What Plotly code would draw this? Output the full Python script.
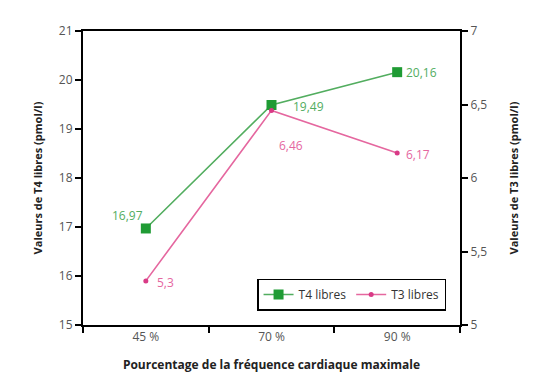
import plotly.graph_objects as go

categories = ["45 %", "70 %", "90 %"]
t4_values = [16.97, 19.49, 20.16]
t3_values = [5.3, 6.46, 6.17]
left_ticks = [15, 16, 17, 18, 19, 20, 21]
right_ticks = [5, 5.5, 6, 6.5, 7]

def fmt(v):
    return str(v).replace(".", ",")

FONT = "Open Sans, sans-serif"
GREEN_M = "#1f9b34"
GREEN_L = "#52ad5f"
PINK_M = "#d93a86"
PINK_L = "#e5679f"

fig = go.Figure()
fig.add_trace(go.Scatter(
    x=categories, y=t4_values, name="T4 libres", mode="lines+markers",
    line=dict(color=GREEN_L, width=1.6),
    marker=dict(symbol="square", size=10, color=GREEN_M),
    yaxis="y",
))
fig.add_trace(go.Scatter(
    x=categories, y=t3_values, name="T3 libres", mode="lines+markers",
    line=dict(color=PINK_L, width=1.6),
    marker=dict(symbol="circle", size=5, color=PINK_M),
    yaxis="y2",
))

# value labels (offsets in pixels from the points)
t4_offsets = [(-18, 13), (37, -2), (24, 0)]
t3_offsets = [(20, -2), (19, -35), (21, -1)]
annotations = []
for cat, v, (dx, dy) in zip(categories, t4_values, t4_offsets):
    annotations.append(dict(x=cat, y=v, xref="x", yref="y", text=fmt(v),
                            showarrow=False, xshift=dx, yshift=dy,
                            font=dict(color=GREEN_L, size=12, family=FONT)))
for cat, v, (dx, dy) in zip(categories, t3_values, t3_offsets):
    annotations.append(dict(x=cat, y=v, xref="x", yref="y2", text=fmt(v),
                            showarrow=False, xshift=dx, yshift=dy,
                            font=dict(color=PINK_L, size=12, family=FONT)))

fig.update_layout(
    width=545, height=392,
    margin=dict(l=83, r=85, t=31, b=67),
    paper_bgcolor="white", plot_bgcolor="white",
    separators=", ",
    font=dict(family=FONT, color="#555555", size=12),
    annotations=annotations,
    xaxis=dict(
        type="category", range=[-0.5, 2.5], tickson="boundaries",
        showline=True, linecolor="black", linewidth=2, mirror=True,
        ticks="outside", ticklen=6, tickwidth=2, tickcolor="black",
        showgrid=False, zeroline=False,
        title=dict(text="<b>Pourcentage de la fréquence cardiaque maximale</b>",
                   font=dict(size=12, color="#222222"), standoff=16),
    ),
    yaxis=dict(
        range=[15, 21], tickvals=left_ticks,
        showline=True, linecolor="black", linewidth=2,
        ticks="outside", ticklen=6, tickwidth=2, tickcolor="black",
        showgrid=False, zeroline=False,
        title=dict(text="<b>Valeurs de T4 libres (pmol/l)</b>",
                   font=dict(size=11, color="#222222"), standoff=14),
    ),
    yaxis2=dict(
        range=[5, 7], tickvals=right_ticks, overlaying="y", side="right",
        showline=True, linecolor="black", linewidth=2,
        ticks="outside", ticklen=6, tickwidth=2, tickcolor="black",
        showgrid=False, zeroline=False,
        title=dict(text="<b>Valeurs de T3 libres (pmol/l)</b>",
                   font=dict(size=11, color="#222222"), standoff=24),
    ),
    legend=dict(
        orientation="h", x=0.963, xanchor="right", y=0.158, yanchor="top",
        bordercolor="black", borderwidth=1.5, bgcolor="white",
        font=dict(size=12, color="#333333"),
    ),
    showlegend=True,
)

fig.write_html("out.html", config={"displayModeBar": False},
               post_script="document.body.style.margin='0';")
